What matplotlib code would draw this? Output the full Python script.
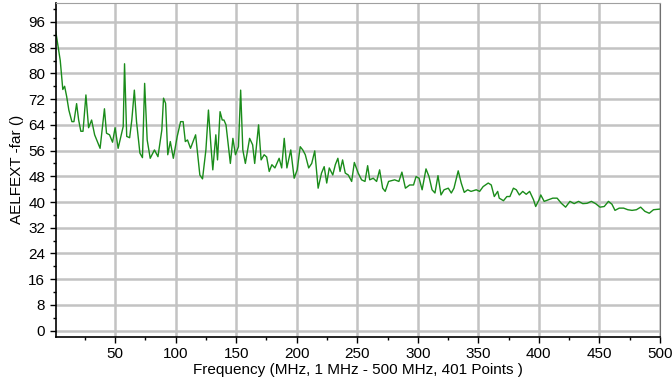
import matplotlib
matplotlib.use("Agg")
import matplotlib.pyplot as plt
from matplotlib.ticker import MultipleLocator

plt.rcParams['font.family'] = ['Liberation Sans', 'DejaVu Sans']

freq = [1, 4.7, 6.8, 8.3, 10.0, 11.8, 14.3, 16.0, 18.2, 19.9, 21.7, 23.5, 25.9, 28.1,
        30.6, 33.1, 37.6, 41.2, 42.9, 45.4, 47.9, 50.0, 52.5, 56.7, 57.8, 59.6, 62.0,
        63.8, 65.9, 67.7, 70.5, 72.6, 74.4, 76.5, 79.0, 82.5, 85.4, 88.6, 90.0, 91.7,
        93.5, 95.6, 98.1, 101.3, 104.1, 106.2, 108.0, 109.8, 112.3, 116.5, 120.0, 122.2,
        125.0, 127.1, 129.2, 130.7, 133.2, 134.6, 136.7, 138.5, 139.9, 141.6, 145.2,
        147.3, 149.4, 151.9, 153.7, 155.5, 157.6, 161.1, 163.6, 165.3, 168.5, 170.6,
        173.1, 175.2, 177.3, 179.5, 182.0, 185.5, 187.6, 189.7, 191.9, 195.1, 197.9,
        200.4, 202.9, 205.0, 207.1, 209.9, 212.4, 214.9, 217.7, 220.5, 222.7, 224.8,
        226.9, 229.8, 231.9, 234.0, 235.8, 237.9, 240.1, 242.6, 245.4, 247.6, 250.8,
        253.6, 256.4, 258.6, 260.3, 263.2, 266.0, 268.5, 271.0, 273.1, 275.9, 280.9,
        284.4, 286.9, 289.8, 293.3, 296.5, 298.6, 301.1, 303.6, 306.8, 309.3, 311.8,
        314.2, 316.7, 319.2, 321.7, 325.2, 327.7, 329.9, 333.4, 335.9, 338.4, 341.2,
        344.0, 348.3, 351.1, 354.0, 358.2, 360.7, 363.2, 366.0, 367.3, 370.8, 373.6,
        376.1, 379.0, 381.4, 383.9, 386.7, 389.6, 392.4, 395.6, 397.4, 400.2, 401.6,
        404.4, 408.0, 411.5, 415.1, 418.6, 422.1, 425.7, 429.2, 432.8, 436.3, 439.8,
        443.4, 446.9, 450.5, 454.0, 457.5, 460.4, 462.9, 466.4, 470.0, 473.5, 477.0,
        480.6, 484.1, 487.6, 491.2, 494.7, 500]

aelfext = [93.0, 84.0, 75.0, 76.0, 72.8, 68.6, 65.0, 65.0, 70.6, 65.5, 62.0, 62.0, 73.3,
           63.1, 65.5, 60.9, 56.7, 69.0, 61.4, 60.9, 58.6, 63.1, 56.7, 63.5, 83.0, 60.4,
           60.0, 65.5, 74.8, 65.0, 55.2, 53.8, 76.9, 59.3, 53.6, 56.2, 54.1, 62.4, 72.3,
           70.7, 54.7, 58.8, 53.6, 60.4, 65.0, 65.0, 58.8, 59.3, 56.7, 60.9, 48.4, 47.2,
           56.2, 68.6, 57.2, 50.0, 60.9, 53.1, 68.1, 65.5, 65.5, 64.0, 52.0, 59.8, 54.7,
           57.2, 74.8, 56.2, 52.0, 59.8, 57.8, 52.0, 64.0, 53.1, 54.7, 54.0, 49.5, 51.6,
           50.6, 53.6, 50.6, 59.8, 50.6, 56.2, 47.4, 50.0, 57.2, 56.2, 54.7, 50.6, 52.0,
           55.9, 44.3, 49.0, 51.0, 45.9, 50.6, 48.4, 51.6, 53.6, 49.5, 53.1, 49.0, 48.4,
           46.4, 52.3, 49.0, 46.9, 46.4, 51.3, 46.9, 47.4, 46.4, 50.0, 44.3, 43.3, 46.4,
           46.9, 46.4, 49.3, 44.3, 45.3, 45.3, 47.9, 47.4, 43.8, 50.3, 47.9, 43.8, 42.8,
           48.2, 42.2, 43.8, 44.3, 42.8, 44.3, 49.7, 45.9, 43.0, 43.8, 43.3, 43.8, 43.3,
           44.8, 45.9, 45.3, 41.7, 43.3, 41.2, 40.4, 41.7, 41.7, 44.3, 43.8, 42.2, 43.3,
           42.4, 43.3, 40.7, 38.6, 40.7, 42.2, 40.2, 40.7, 41.2, 41.2, 39.6, 38.4, 40.2,
           39.5, 40.2, 39.5, 39.6, 40.2, 39.5, 38.4, 38.6, 40.2, 39.3, 37.4, 38.1, 38.1,
           37.6, 37.4, 37.6, 38.4, 37.1, 36.5, 37.6, 37.8]

fig = plt.figure(figsize=(6.72, 3.83), dpi=100)
ax = fig.add_axes([0.083, 0.12, 0.899, 0.873])

ax.plot(freq, aelfext, color='#1a8c1a', linewidth=1.0)

ax.set_xlim(1, 500)
ax.set_ylim(-2, 102)
ax.xaxis.set_major_locator(MultipleLocator(50))
ax.xaxis.set_minor_locator(MultipleLocator(25))
ax.yaxis.set_major_locator(MultipleLocator(8))
ax.yaxis.set_minor_locator(MultipleLocator(4))
ax.set_yticks(range(0, 97, 8))

ax.grid(True, which='major', color='#c3c3c3', linewidth=1.8)
ax.set_axisbelow(True)
ax.tick_params(which='major', direction='out', length=4, width=1, labelsize=11, colors='black')
ax.tick_params(which='minor', direction='out', length=2.5, width=1)

ax.spines['left'].set_color('black')
ax.spines['bottom'].set_color('black')
ax.spines['left'].set_linewidth(1.2)
ax.spines['bottom'].set_linewidth(1.2)
ax.spines['top'].set_color('#a0a0a0')
ax.spines['right'].set_color('#707070')

ax.set_xlabel("Frequency (MHz, 1 MHz - 500 MHz, 401 Points )", fontsize=11, labelpad=1)
ax.set_ylabel("AELFEXT -far ()", fontsize=11, labelpad=3)

fig.savefig("out.png", dpi=100)
